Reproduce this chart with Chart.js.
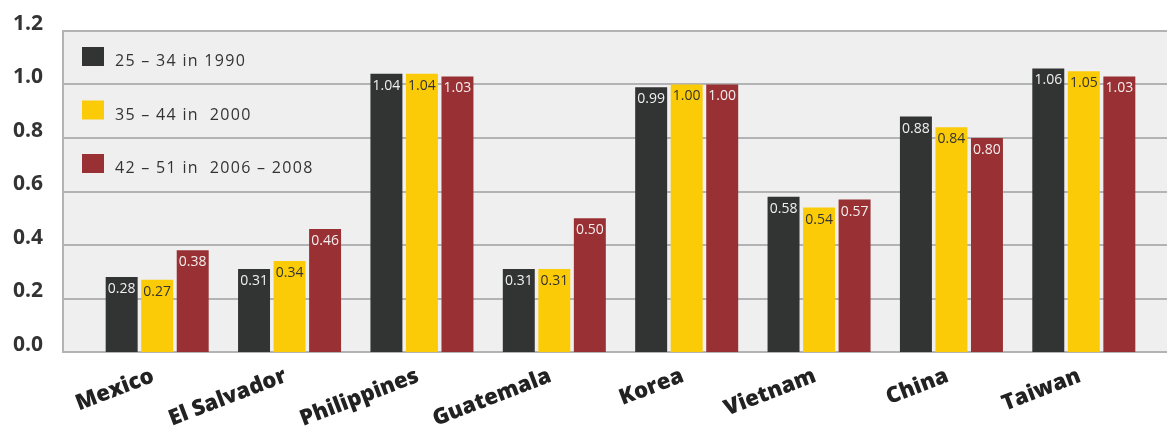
<!DOCTYPE html>
<html>
<head>
<meta charset="utf-8">
<script src="https://cdn.jsdelivr.net/npm/chart.js@4/dist/chart.umd.min.js"></script>
<style>
  html, body { margin: 0; padding: 0; background: #fff; }
  #wrap { width: 1167px; height: 429px; position: relative; }
</style>
</head>
<body>
<div id="wrap"><canvas id="ageChart"></canvas></div>
<script>
// Countries and the three age cohorts
const countries = ['Mexico', 'El Salvador', 'Philippines', 'Guatemala', 'Korea', 'Vietnam', 'China', 'Taiwan'];
const cohort1990 = [0.28, 0.31, 1.04, 0.31, 0.99, 0.58, 0.88, 1.06];
const cohort2000 = [0.27, 0.34, 1.04, 0.31, 1.00, 0.54, 0.84, 1.05];
const cohort2006 = [0.38, 0.46, 1.03, 0.50, 1.00, 0.57, 0.80, 1.03];
const seriesNames = ['25 – 34 in 1990', '35 – 44 in  2000', '42 – 51 in  2006 – 2008'];
const yTicks = [0, 0.2, 0.4, 0.6, 0.8, 1.0, 1.2];

const colors = ['#323333', '#fccb08', '#993033'];
const labelColors = ['#f0f0f0', '#333333', '#f4eeee'];

// gray panel + gridlines, a bit wider than the bar area
const panelPlugin = {
    id: 'panel',
    beforeDatasetsDraw(chart) {
        const ctx = chart.ctx;
        const y = chart.scales.y;
        const left = 63, right = chart.width;
        const top = y.getPixelForValue(1.2), bottom = y.getPixelForValue(0);
        ctx.save();
        ctx.fillStyle = '#efefef';
        ctx.fillRect(left, top, right - left, bottom - top);
        ctx.strokeStyle = '#b3b3b5';
        ctx.lineWidth = 2;
        yTicks.forEach(v => {
            const py = Math.round(y.getPixelForValue(v));
            ctx.beginPath();
            ctx.moveTo(left, py);
            ctx.lineTo(right, py);
            ctx.stroke();
        });
        ctx.beginPath();
        ctx.moveTo(left, top - 1);
        ctx.lineTo(left, bottom + 1);
        ctx.stroke();
        ctx.restore();
    }
};

// value printed near the top of each bar
const barLabelPlugin = {
    id: 'barLabels',
    afterDatasetsDraw(chart) {
        const ctx = chart.ctx;
        ctx.save();
        ctx.font = '14px "Open Sans"';
        ctx.textAlign = 'center';
        ctx.textBaseline = 'middle';
        chart.data.datasets.forEach((ds, i) => {
            const meta = chart.getDatasetMeta(i);
            ctx.fillStyle = labelColors[i];
            meta.data.forEach((bar, j) => {
                ctx.fillText(ds.data[j].toFixed(2), bar.x, bar.y + 12);
            });
        });
        ctx.restore();
    }
};

// legend sits inside the panel, top left
const insideLegendPlugin = {
    id: 'insideLegend',
    afterDraw(chart) {
        const ctx = chart.ctx;
        ctx.save();
        ctx.font = '16px "Open Sans"';
        ctx.letterSpacing = '1.3px';
        ctx.textAlign = 'left';
        ctx.textBaseline = 'alphabetic';
        chart.data.datasets.forEach((ds, i) => {
            const top = 47 + i * 53.5;
            ctx.fillStyle = ds.backgroundColor;
            ctx.fillRect(82, top, 22, 19);
            ctx.fillStyle = '#333333';
            ctx.fillText(ds.label, 115, top + 19);
        });
        ctx.restore();
    }
};

const ctx = document.getElementById('ageChart');
new Chart(ctx, {
    type: 'bar',
    data: {
        labels: countries,
        datasets: [
            { label: seriesNames[0], data: cohort1990, backgroundColor: colors[0] },
            { label: seriesNames[1], data: cohort2000, backgroundColor: colors[1] },
            { label: seriesNames[2], data: cohort2006, backgroundColor: colors[2] }
        ]
    },
    options: {
        responsive: true,
        maintainAspectRatio: false,
        animation: false,
        layout: { padding: { left: 0, right: 17, top: 31, bottom: 0 } },
        datasets: {
            bar: { categoryPercentage: 0.805, barPercentage: 0.9 }
        },
        plugins: {
            legend: { display: false },
            tooltip: { enabled: false }
        },
        scales: {
            x: {
                grid: { display: false, drawTicks: false },
                border: { display: false },
                afterFit(scale) {
                    scale.height = 77;
                    scale.paddingLeft = 0;
                    scale.paddingRight = 0;
                },
                ticks: {
                    autoSkip: false,
                    minRotation: 21,
                    maxRotation: 21,
                    padding: 11,
                    labelOffset: -4,
                    color: '#222222',
                    font: { family: 'Open Sans', size: 22, weight: '800' }
                }
            },
            y: {
                min: 0,
                max: 1.2,
                grid: { display: false, drawTicks: false },
                border: { display: false },
                afterFit(scale) {
                    scale.width = 91;
                    scale.paddingTop = 0;
                    scale.paddingBottom = 0;
                },
                afterBuildTicks(scale) { scale.ticks = yTicks.map(v => ({ value: v })); },
                ticks: {
                    padding: 48,
                    labelOffset: -7,
                    color: '#333333',
                    font: { family: 'Open Sans', size: 21, weight: 'bold' },
                    callback: v => v.toFixed(1)
                }
            }
        }
    },
    plugins: [panelPlugin, barLabelPlugin, insideLegendPlugin]
});
</script>
</body>
</html>
